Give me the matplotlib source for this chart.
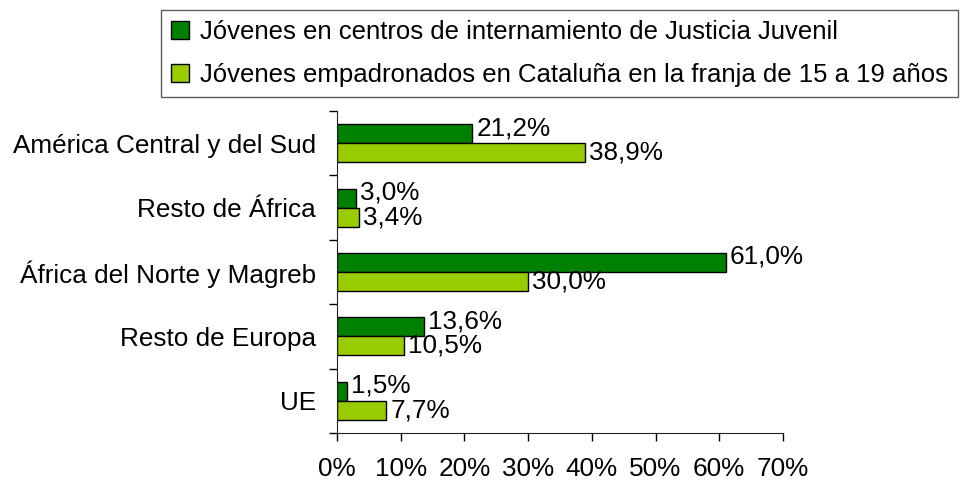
import matplotlib.pyplot as plt
import numpy as np

# categories, bottom to top as drawn
categories = ['UE', 'Resto de Europa', 'África del Norte y Magreb',
              'Resto de África', 'América Central y del Sud']
justicia = [1.5, 13.6, 61.0, 3.0, 21.2]
padron = [7.7, 10.5, 30.0, 3.4, 38.9]
series_names = ['Jóvenes en centros de internamiento de Justicia Juvenil',
                'Jóvenes empadronados en Cataluña en la franja de 15 a 19 años']
xticks = [0, 10, 20, 30, 40, 50, 60, 70]

plt.rcParams['font.family'] = ['Liberation Sans', 'DejaVu Sans']
fs = 18.8

fig = plt.figure(figsize=(9.63, 4.86), dpi=100)
ax = fig.add_axes([0.35, 0.109, 0.463, 0.6626])

y = np.arange(len(categories))
h = 0.295
b1 = ax.barh(y + h / 2, justicia, h, color='#008000', edgecolor='black', linewidth=1)
b2 = ax.barh(y - h / 2, padron, h, color='#99CC00', edgecolor='black', linewidth=1)

# value labels next to bar ends (dark ones sit a bit higher)
for bars, vals, dy in ((b1, justicia, 4), (b2, padron, 0)):
    for bar, v in zip(bars, vals):
        ax.annotate(f'{v:.1f}%'.replace('.', ','),
                    (bar.get_width(), bar.get_y() + bar.get_height() / 2),
                    xytext=(3, dy), textcoords='offset points',
                    ha='left', va='center', fontsize=fs)

ax.set_xlim(0, 70)
ax.set_ylim(-0.5, len(categories) - 0.5)
ax.set_xticks(xticks)
ax.set_xticklabels([f'{t}%' for t in xticks], fontsize=fs)
ax.tick_params(axis='x', direction='out', length=6, pad=11, width=1)

ax.set_yticks(y)
ax.set_yticklabels(categories, fontsize=fs)
ax.set_yticks(np.arange(-0.5, len(categories)), minor=True)
ax.tick_params(axis='y', which='major', length=0, pad=15)
ax.tick_params(axis='y', which='minor', direction='out', length=6, width=1)

for s in ('top', 'right'):
    ax.spines[s].set_visible(False)
for s in ('left', 'bottom'):
    ax.spines[s].set_color('#222222')

leg = fig.legend([b1, b2], series_names, loc='upper right',
                 bbox_to_anchor=(958 / 963, 1 - 10 / 486), fontsize=18.5,
                 frameon=True, fancybox=False, edgecolor='#333333',
                 handlelength=0.7, handleheight=0.7, handletextpad=0.4,
                 labelspacing=0.72, borderpad=0.4, borderaxespad=0)
leg.get_frame().set_linewidth(1)

fig.savefig('out.png', dpi=100)
